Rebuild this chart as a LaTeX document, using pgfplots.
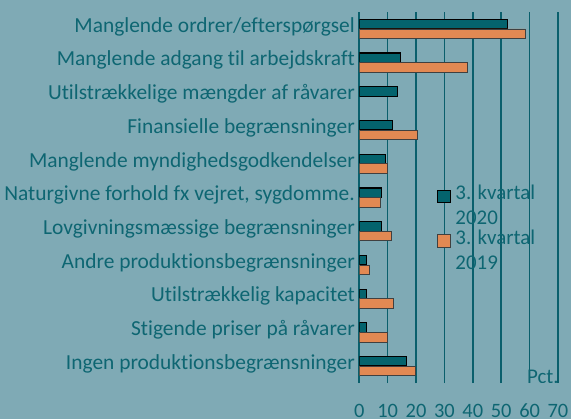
\documentclass[border=0pt]{standalone}
\usepackage{pgfplots}
\pgfplotsset{compat=1.18}
\usepackage{pgfplotstable}
\usepackage{fontspec}
\setmainfont{Carlito}[Ligatures={NoCommon}]
\definecolor{bg}{RGB}{127,170,181}
\definecolor{tealtxt}{RGB}{14,102,114}
\definecolor{darkbar}{RGB}{4,99,109}
\definecolor{orangebar}{RGB}{226,137,83}
\definecolor{gridc}{RGB}{10,95,108}

\pgfplotstableread{
y v
10 52.2
9 14.5
8 13.5
7 11.6
6 9.3
5 7.8
4 7.8
3 2.6
2 2.6
1 2.6
0 16.6
}\qtwenty
\pgfplotstableread{
y v
10 58.4
9 38.1
7 20.6
6 9.9
5 7.5
4 11.4
3 3.7
2 12.0
1 10.0
0 19.6
}\qnineteen

\begin{document}
\fontsize{20.5}{25}\selectfont
\begin{tikzpicture}
\fill[bg] (-359.3bp,-36bp) rectangle (211.7bp,383bp);
\begin{axis}[
  scale only axis, width=198.7bp, height=371bp,
  xmin=0, xmax=70, ymin=-0.5, ymax=10.5,
  bar width=0.28,
  axis lines*=left,
  x axis line style={draw=none},
  y axis line style={draw=gridc, line width=1.5bp, -},
  xtick={0,10,...,70}, ytick={0,...,10},
  yticklabels={Ingen produktionsbegrænsninger, Stigende priser på råvarer, Utilstrækkelig kapacitet, Andre produktionsbegrænsninger, Lovgivningsmæssige begrænsninger, {Naturgivne forhold fx vejret, sygdomme.}, Manglende myndighedsgodkendelser, Finansielle begrænsninger, Utilstrækkelige mængder af råvarer, Manglende adgang til arbejdskraft, Manglende ordrer/efterspørgsel},
  major tick length=0,
  xmajorgrids, grid style={gridc, line width=1.6bp},
  tick label style={font=\fontsize{20.5}{25}\selectfont, text=tealtxt},
  /pgf/number format/assume math mode=true,
  yticklabel style={font=\fontsize{21.5}{25}\selectfont, anchor=base east, inner sep=0pt, xshift=-4.3bp, yshift=-3.3bp},
  xticklabel style={anchor=north, inner sep=0pt, yshift=-21bp},
  legend image code/.code={\path[draw=none, fill=none] (0bp,-6bp) rectangle (0.1bp,16.5bp); \draw[#1] (0bp,4bp) rectangle (12.5bp,16.5bp);},
  legend cell align=left,
  legend style={at={(axis cs:27.4,5.38)}, anchor=north west, draw=none, fill=none,
    font=\fontsize{21}{25}\selectfont, text=tealtxt, inner sep=0pt,
    cells={align=left}, nodes={inner sep=0.5bp}, column sep=4bp, row sep=1bp},
]
\addplot[xbar, bar shift=0.142, fill=darkbar, draw=black, line width=1.2bp] table[x=v, y=y] {\qtwenty};
\addlegendentry{3. kvartal\\2020}
\addplot[xbar, bar shift=-0.142, fill=orangebar, draw=black!75, line width=0.8bp] table[x=v, y=y] {\qnineteen};
\addlegendentry{3. kvartal\\2019}
\node[anchor=base east, inner sep=0pt, text=tealtxt, font=\fontsize{21}{25}\selectfont] at (axis cs:70.3,-0.5) {Pct.};
\end{axis}
\pgfresetboundingbox
\useasboundingbox (-359.3bp,-36bp) rectangle (211.7bp,383bp);
\end{tikzpicture}
\end{document}
